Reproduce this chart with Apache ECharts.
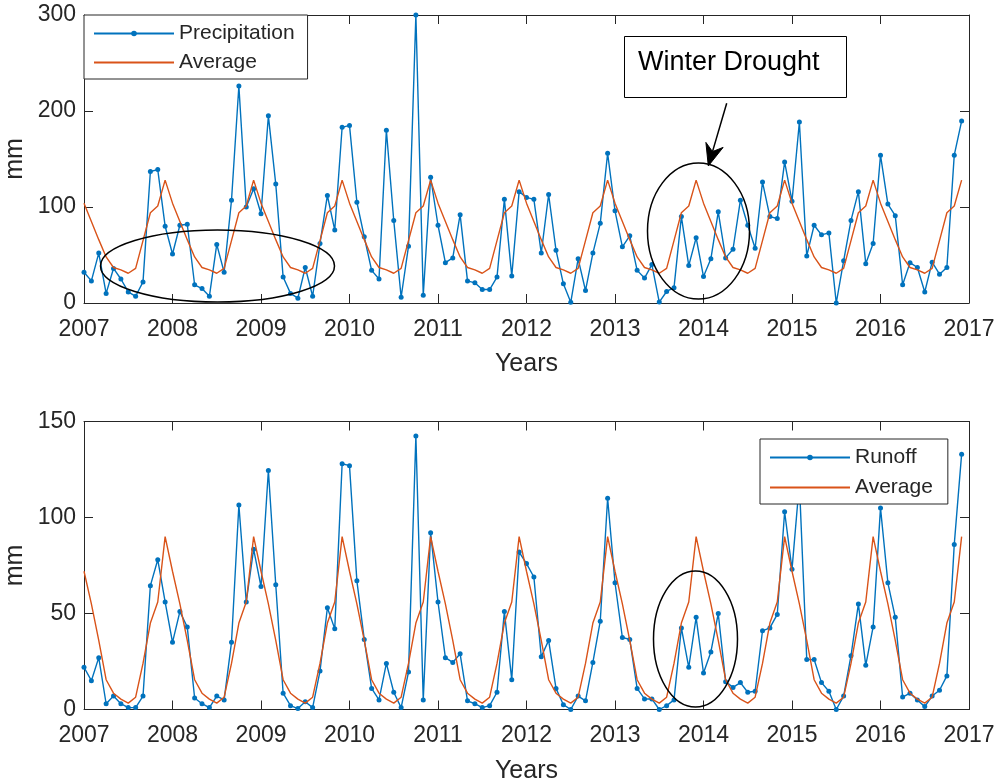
<!DOCTYPE html>
<html>
<head>
<meta charset="utf-8">
<script src="https://cdn.jsdelivr.net/npm/echarts@6/dist/echarts.min.js"></script>
<style>
html,body{margin:0;padding:0;background:#fff;}
#chart{width:1003px;height:782px;}
</style>
</head>
<body>
<div id="chart"></div>
<script>
// ---- Data (monthly, Jan 2007 .. Dec 2016) ----
const startYear = 2007;
const endYear = 2017;

const precipitation = [
  32, 23, 52, 10, 36, 25, 11.5, 7, 22, 137, 139, 80,
  51, 81, 82, 19, 15, 7, 61, 32, 107, 226, 100, 119,
  93, 195, 124, 27, 10, 5, 37, 7, 62, 112, 76, 183,
  185, 105, 69, 34, 25, 180, 86, 6, 59, 300, 8, 131,
  81, 42, 47, 92, 23, 21, 14, 14, 27, 108, 28, 116,
  110, 108, 52, 113, 55, 20, 0.7, 46, 13, 52, 83, 156,
  96, 58.5, 70, 34, 26, 40, 1, 12, 16, 90, 39, 68,
  27.5, 46, 95, 47, 56, 107, 81, 57, 126, 90, 88, 147,
  106, 188.5, 49, 81, 71, 73, 0, 44, 86, 116, 41, 62,
  154, 103, 91, 19, 42, 37, 11.5, 42.5, 30, 37, 154, 189.5
];

const runoff = [
  22, 15, 27, 3, 7, 3, 1, 1, 7, 64.5, 78, 56,
  35, 51, 43, 6, 3, 1, 7, 5, 35, 106.5, 56, 83.5,
  64, 124.5, 65, 8.5, 2, 0.5, 4, 1, 20, 53, 42, 128,
  127, 67, 36.5, 11, 5, 24, 9, 1, 19.5, 142.5, 5, 92,
  56, 27, 24.5, 29, 4.5, 3, 1, 2, 9, 51, 15.5, 82,
  76, 69, 27.5, 36, 11, 2.5, 0, 7, 4.5, 24.5, 46, 110,
  66, 37.5, 36.5, 11, 5.5, 5.5, 0, 2, 5, 42.5, 22, 48,
  19, 30, 50, 14.5, 11.5, 14, 9, 9.5, 41, 42.5, 49.5, 103,
  73, 118, 26, 26, 14, 9.5, 0, 7, 28, 55, 23, 43,
  105, 66, 48, 6.5, 8.5, 5, 1.5, 7, 10, 17.5, 86, 133
];

// Monthly climatology (Jan..Dec) shown as the "Average" curves; repeats every year
const avgPrecipMonthly = [104, 85, 66, 48, 37, 34.5, 31, 36, 65, 94, 101, 128];
const avgRunoffMonthly = [72, 55, 36, 15.5, 8.5, 5.4, 3.3, 6.4, 24, 45, 56, 90];

const yearTicks = [2007, 2008, 2009, 2010, 2011, 2012, 2013, 2014, 2015, 2016, 2017];
const precipTicks = [0, 100, 200, 300];
const runoffTicks = [0, 50, 100, 150];

// ---- build series ----
function toPairs(values) {
  return values.map((v, i) => [startYear + i / 12, v]);
}
function climatology(monthly) {
  const nYears = endYear - startYear;
  const out = [];
  for (let y = 0; y < nYears; y++) monthly.forEach(v => out.push(v));
  return out;
}

const BLUE = '#0072BD';
const ORANGE = '#D95319';
const AXIS = '#262626';
const FONT = 'Liberation Sans, Arial, Helvetica, sans-serif';

function xAxisPair(gi) {
  return [
    {
      gridIndex: gi, type: 'value', position: 'bottom',
      min: yearTicks[0], max: yearTicks[yearTicks.length - 1], interval: 1,
      name: 'Years', nameLocation: 'middle', nameGap: 49,
      nameTextStyle: { fontSize: 25, color: AXIS, fontFamily: FONT },
      axisLine: { show: true, onZero: false, lineStyle: { color: AXIS, width: 1 } },
      axisTick: { show: true, inside: true, length: 9, lineStyle: { color: AXIS } },
      axisLabel: { show: true, margin: 15, fontSize: 23, color: AXIS, fontFamily: FONT, formatter: v => String(v) },
      splitLine: { show: false }
    },
    {
      gridIndex: gi, type: 'value', position: 'top',
      min: yearTicks[0], max: yearTicks[yearTicks.length - 1], interval: 1,
      axisLine: { show: true, onZero: false, lineStyle: { color: AXIS, width: 1 } },
      axisTick: { show: true, inside: true, length: 9, lineStyle: { color: AXIS } },
      axisLabel: { show: false },
      splitLine: { show: false }
    }
  ];
}
function yAxisPair(gi, ticks) {
  const step = ticks[1] - ticks[0];
  return [
    {
      gridIndex: gi, type: 'value', position: 'left',
      min: ticks[0], max: ticks[ticks.length - 1], interval: step,
      axisLine: { show: true, onZero: false, lineStyle: { color: AXIS, width: 1 } },
      axisTick: { show: true, inside: true, length: 9, lineStyle: { color: AXIS } },
      axisLabel: { show: true, margin: 8, fontSize: 23, color: AXIS, fontFamily: FONT },
      splitLine: { show: false }
    },
    {
      gridIndex: gi, type: 'value', position: 'right',
      min: ticks[0], max: ticks[ticks.length - 1], interval: step,
      axisLine: { show: true, onZero: false, lineStyle: { color: AXIS, width: 1 } },
      axisTick: { show: true, inside: true, length: 9, lineStyle: { color: AXIS } },
      axisLabel: { show: false },
      splitLine: { show: false }
    }
  ];
}

function dataSeries(name, values, xi, yi) {
  return {
    name: name, type: 'line', xAxisIndex: xi, yAxisIndex: yi,
    data: toPairs(values),
    symbol: 'circle', symbolSize: 5, showAllSymbol: true,
    lineStyle: { color: BLUE, width: 1.4 },
    itemStyle: { color: BLUE },
    emphasis: { disabled: true },
    animation: false, z: 2
  };
}
function avgSeries(values, xi, yi) {
  return {
    name: 'Average', type: 'line', xAxisIndex: xi, yAxisIndex: yi,
    data: toPairs(values),
    symbol: 'none', showSymbol: false,
    lineStyle: { color: ORANGE, width: 1.4 },
    itemStyle: { color: ORANGE },
    emphasis: { disabled: true },
    animation: false, z: 3
  };
}

function legendBox(left, top, names, gap, padRight) {
  return {
    left: left, top: top, orient: 'vertical',
    data: [
      { name: names[0] },
      { name: names[1], itemStyle: { opacity: 0 } }
    ],
    itemWidth: 80, itemHeight: 7, itemGap: gap,
    padding: [8, padRight, 6, 9],
    borderColor: AXIS, borderWidth: 1, backgroundColor: '#fff',
    textStyle: { fontSize: 21, color: AXIS, fontFamily: FONT, lineHeight: 21 },
    selectedMode: false, z: 10
  };
}

function yName(cy) {
  return { type: 'text', x: 15, y: cy, rotation: Math.PI / 2,
    style: { text: 'mm', fill: AXIS, fontSize: 25, fontFamily: FONT, align: 'center', verticalAlign: 'middle' }, z: 5 };
}

const chart = echarts.init(document.getElementById('chart'), null, { renderer: 'canvas' });

const option = {
  backgroundColor: '#fff',
  animation: false,
  grid: [
    { left: 84, top: 15, width: 885, height: 288, containLabel: false, outerBoundsMode: 'none' },
    { left: 84, top: 421.5, width: 885, height: 288, containLabel: false, outerBoundsMode: 'none' }
  ],
  xAxis: [].concat(xAxisPair(0), xAxisPair(1)),
  yAxis: [].concat(yAxisPair(0, precipTicks), yAxisPair(1, runoffTicks)),
  legend: [
    legendBox(84, 15, ['Precipitation', 'Average'], 8, 13),
    legendBox(760, 439, ['Runoff', 'Average'], 9, 15)
  ],
  series: [
    dataSeries('Precipitation', precipitation, 0, 0),
    avgSeries(climatology(avgPrecipMonthly), 0, 0),
    dataSeries('Runoff', runoff, 2, 2),
    avgSeries(climatology(avgRunoffMonthly), 2, 2)
  ],
  graphic: [
    yName(159),
    yName(565.5),
    { type: 'ellipse', shape: { cx: 217.5, cy: 266, rx: 117, ry: 36 },
      style: { fill: 'none', stroke: '#000', lineWidth: 1.5 }, z: 20 },
    { type: 'ellipse', shape: { cx: 698.5, cy: 231, rx: 51, ry: 68 },
      style: { fill: 'none', stroke: '#000', lineWidth: 1.5 }, z: 20 },
    { type: 'ellipse', shape: { cx: 695.5, cy: 639, rx: 42, ry: 68 },
      style: { fill: 'none', stroke: '#000', lineWidth: 1.5 }, z: 20 },
    { type: 'rect', shape: { x: 624.5, y: 36.5, width: 222, height: 61 },
      style: { fill: '#fff', stroke: '#000', lineWidth: 1 }, z: 20 },
    { type: 'text', x: 638, y: 63,
      style: { text: 'Winter Drought', fill: '#000', fontSize: 27, fontFamily: FONT, align: 'left', verticalAlign: 'middle' }, z: 21 },
    { type: 'line', shape: { x1: 726.7, y1: 103.3, x2: 712.5, y2: 151.6 },
      style: { stroke: '#000', lineWidth: 1.5 }, z: 20 },
    { type: 'polygon', shape: { points: [[708.3, 166], [705.9, 142.4], [712.5, 151.6], [723.1, 147.4]] },
      style: { fill: '#000', stroke: '#000', lineWidth: 1 }, z: 20 }
  ]
};
chart.setOption(option);
</script>
</body>
</html>
